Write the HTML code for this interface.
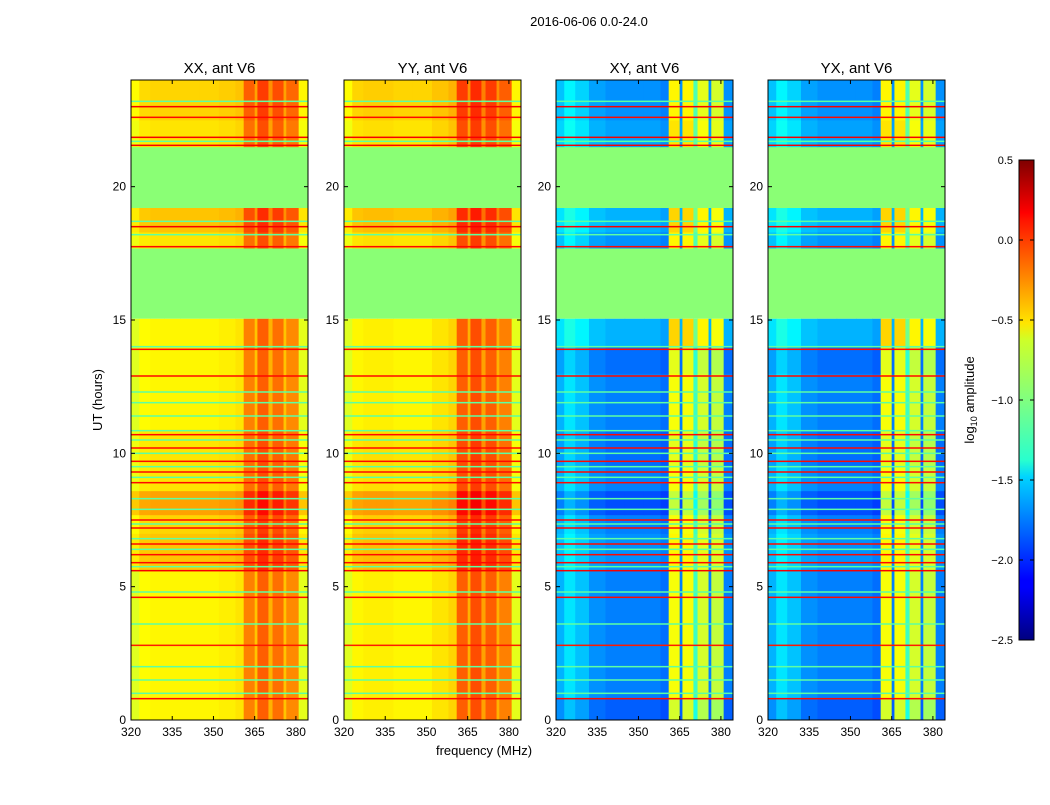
<!DOCTYPE html>
<html><head><meta charset="utf-8"><style>
body{margin:0;background:#fff;}
svg text{font-family:"Liberation Sans","DejaVu Sans",sans-serif;}
</style></head><body>
<svg id="fig" width="1050" height="800" xmlns="http://www.w3.org/2000/svg">
<defs>
<linearGradient id="jet" x1="0" y1="1" x2="0" y2="0">
<stop offset="0" stop-color="#00007f"/><stop offset="0.11" stop-color="#0000ff"/><stop offset="0.125" stop-color="#0000ff"/>
<stop offset="0.34" stop-color="#00d4ff"/><stop offset="0.375" stop-color="#29ffce"/><stop offset="0.5" stop-color="#80ff80"/>
<stop offset="0.625" stop-color="#ceff29"/><stop offset="0.66" stop-color="#ffe500"/><stop offset="0.875" stop-color="#ff1400"/>
<stop offset="0.89" stop-color="#ff0000"/><stop offset="1" stop-color="#7f0000"/>
</linearGradient>
</defs>
<text x="589" y="26" font-size="13" text-anchor="middle">2016-06-06 0.0-24.0</text>
<g id="panels"></g>
<text x="484" y="755" font-size="13" text-anchor="middle">frequency (MHz)</text>
<text x="0" y="0" font-size="13" text-anchor="middle" transform="translate(102,400) rotate(-90)">UT (hours)</text>
<g>
<rect x="1019" y="160" width="15" height="480" fill="url(#jet)" stroke="#000" stroke-width="1"/>
<g id="cbticks"></g>
<text font-size="13" text-anchor="middle" transform="translate(974,400) rotate(-90)">log<tspan font-size="9" dy="3">10</tspan><tspan dy="-3"> amplitude</tspan></text>
</g>
</svg>
<script>
const panelTitles=["XX, ant V6","YY, ant V6","XY, ant V6","YX, ant V6"];
const panelLeft=[131,344,556,768];
const freqEdges=[320,323,327,332,338,345,352,358,361,365,366,370,371.5,375.5,376.5,381,384.4];
const colParallel=[-0.72,-0.62,-0.6,-0.6,-0.6,-0.6,-0.58,-0.55,-0.25,-0.45,-0.15,-0.4,-0.2,-0.45,-0.28,-0.7];
const colParallelYY=[-0.72,-0.6,-0.58,-0.58,-0.6,-0.6,-0.55,-0.5,-0.15,-0.4,-0.1,-0.35,-0.15,-0.4,-0.25,-0.7];
const colCross=[-1.6,-1.45,-1.55,-1.7,-1.75,-1.75,-1.75,-1.8,-0.65,-1.75,-0.65,-1.2,-0.75,-1.75,-0.8,-1.75];
const timeEdges=[0,0.8,2.8,4.6,5.6,7.0,7.7,8.6,9.5,10.9,13.0,14.0,15.05,17.7,18.3,19.2,21.5,22.5,24];
const rowParallel=[0,0,0,0,0.15,0.1,0.25,0.05,0.05,0,0,0,null,0.05,0.15,null,0.05,0.1];
const rowCross=[-0.1,0,0,0,0.05,0,-0.15,0,-0.05,0,-0.05,0.15,null,0.05,0.15,null,0.1,0.05];
const flagValue=-0.97;
const lineHours=[0.8,1.0,1.5,2.0,2.8,3.6,4.6,4.8,5.6,5.75,5.9,6.2,6.4,6.6,6.8,7.2,7.35,7.5,7.9,8.3,8.9,9.1,9.3,9.5,9.7,10.0,10.2,10.5,10.7,10.85,11.4,11.9,12.3,12.9,13.9,14.0,17.75,18.2,18.5,18.7,21.55,21.7,21.85,22.6,23.0,23.2];
const lineValues=[0.1,-1.1,-1.1,-1.1,0.05,-1.1,0.1,-1.1,0.15,-1.1,0.1,0.1,-1.1,0.1,-1.1,0.1,-1.1,0.1,-1.1,-1.1,0.1,-1.1,0.1,-1.1,0.1,-1.1,0.1,-1.1,0.1,-1.1,-1.1,-1.1,-1.1,0.1,0.1,-1.1,0.1,-1.1,0.15,-1.1,0.15,-1.1,0.15,0.1,0.15,-1.1];
const xTicks=[320,335,350,365,380];
const yTicks=[0,5,10,15,20];
const cbTicks=[0.5,0.0,-0.5,-1.0,-1.5,-2.0,-2.5];

const W=177,TOP=80,BOT=720,FMIN=320,FMAX=384.4,VMIN=-2.5,VMAX=0.5;
function yScale(h){return BOT-(h/24)*(BOT-TOP);}
function xScale(left,f){return left+(f-FMIN)/(FMAX-FMIN)*W;}
function jet(v){let t=(v-VMIN)/(VMAX-VMIN);t=Math.max(0,Math.min(1,t));
 const c=x=>Math.round(255*Math.max(0,Math.min(1,1.5-Math.abs(4*t-x))));
 return `rgb(${c(3)},${c(2)},${c(1)})`;}
const NS="http://www.w3.org/2000/svg";
function mk(tag,attrs,parent){const e=document.createElementNS(NS,tag);for(const k in attrs)e.setAttribute(k,attrs[k]);parent.appendChild(e);return e;}
const panels=document.getElementById('panels');
panelTitles.forEach((title,p)=>{
 const left=panelLeft[p];
 const g=mk('g',{},panels);
 
 
 const cross=p>=2;
 const cols=cross?colCross:(p==1?colParallelYY:colParallel);
 const rows=cross?rowCross:rowParallel;
 const hm=mk('g',{},g);
 
 
 for(let r=0;r<timeEdges.length-1;r++){
  const y0=yScale(timeEdges[r+1]),y1=yScale(timeEdges[r]);
  if(rows[r]===null){
   const c=mk('rect',{x:left,y:y0,width:W,height:y1-y0,fill:jet(flagValue)},hm);
   
   
   continue;}
  for(let k=0;k<freqEdges.length-1;k++){
   const x0=xScale(left,freqEdges[k]),x1=xScale(left,freqEdges[k+1]);
   const c=mk('rect',{x:x0,y:y0,width:x1-x0+0.5,height:y1-y0+0.5,fill:jet(cols[k]+rows[r])},hm);
   
   
  }
 }
 lineHours.forEach((h,i)=>{
  const l=mk('rect',{x:left,y:yScale(h)-0.75,width:W,height:1.5,fill:jet(lineValues[i])},hm);
  
  
 });
 const fr=mk('rect',{x:left,y:TOP,width:W,height:BOT-TOP,fill:'none',stroke:'#000','stroke-width':1},g);
 
 
 const t=mk('text',{x:left+W/2,y:73,'font-size':15,'text-anchor':'middle'},g);t.textContent=title;
 
 
 xTicks.forEach(f=>{const x=xScale(left,f);
  mk('line',{x1:x,x2:x,y1:BOT,y2:BOT-4,stroke:'#000'},g);mk('line',{x1:x,x2:x,y1:TOP,y2:TOP+4,stroke:'#000'},g);
  const tt=mk('text',{x:x,y:736,'font-size':12,'text-anchor':'middle'},g);tt.textContent=f;
  
  });
 yTicks.forEach(h=>{const y=yScale(h);
  mk('line',{x1:left,x2:left+4,y1:y,y2:y,stroke:'#000'},g);mk('line',{x1:left+W,x2:left+W-4,y1:y,y2:y,stroke:'#000'},g);
  const tt=mk('text',{x:left-5,y:y+4,'font-size':12,'text-anchor':'end'},g);tt.textContent=h;
  
  });
});
const cbt=document.getElementById('cbticks');
cbTicks.forEach(v=>{const y=160+(VMAX-v)/(VMAX-VMIN)*480;
 mk('line',{x1:1019,x2:1023,y1:y,y2:y,stroke:'#000'},cbt);mk('line',{x1:1034,x2:1030,y1:y,y2:y,stroke:'#000'},cbt);
 const tt=mk('text',{x:1013,y:y+4,'font-size':11,'text-anchor':'end'},cbt);tt.textContent=(v<0?'\u2212':'')+Math.abs(v).toFixed(1);
 
 });
</script>
</body></html>
